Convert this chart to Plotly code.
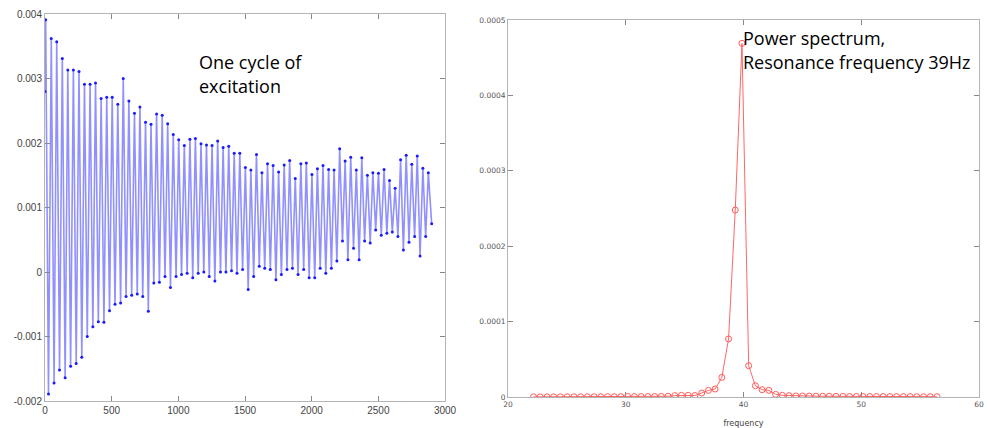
import plotly.graph_objects as go

# ---------------- Left panel: one cycle of excitation (read per oscillation cycle) ----------------
start_sample = 0
start_value = 0.0028
end_sample = 2900
end_value = 0.00075

peak_sample = [5, 47, 88, 130, 171, 213, 255, 296, 338, 379, 421, 463, 504, 546, 587, 629, 671, 712,
               754, 795, 837, 879, 920, 962, 1003, 1045, 1087, 1128, 1170, 1211, 1253, 1295, 1336,
               1378, 1419, 1461, 1503, 1544, 1586, 1627, 1669, 1711, 1752, 1794, 1835, 1877, 1919,
               1960, 2002, 2043, 2085, 2127, 2168, 2210, 2251, 2293, 2335, 2376, 2418, 2459, 2501,
               2543, 2584, 2626, 2667, 2709, 2751, 2792, 2834, 2875]
peak_value = [0.00391, 0.00362, 0.00357, 0.00331, 0.00313, 0.00313, 0.00311, 0.00291, 0.00291,
              0.00293, 0.00269, 0.00271, 0.00271, 0.00260, 0.00300, 0.00265, 0.00246, 0.00256,
              0.00232, 0.00229, 0.00245, 0.00243, 0.00230, 0.00213, 0.00205, 0.00196, 0.00206,
              0.00207, 0.00199, 0.00197, 0.00196, 0.00203, 0.00193, 0.00195, 0.00184, 0.00184,
              0.00162, 0.00158, 0.00182, 0.00154, 0.00168, 0.00165, 0.00155, 0.00166, 0.00173,
              0.00145, 0.00168, 0.00169, 0.00151, 0.00160, 0.00165, 0.00159, 0.00158, 0.00191,
              0.00172, 0.00178, 0.00158, 0.00177, 0.00150, 0.00154, 0.00153, 0.00159, 0.00142,
              0.00130, 0.00174, 0.00181, 0.00167, 0.00180, 0.00161, 0.00154]

trough_sample = [26, 68, 109, 151, 192, 234, 276, 317, 359, 400, 442, 484, 525, 567, 608, 650, 692,
                 733, 775, 816, 858, 900, 941, 983, 1024, 1066, 1108, 1149, 1191, 1232, 1274, 1316,
                 1357, 1399, 1440, 1482, 1524, 1565, 1607, 1648, 1690, 1732, 1773, 1815, 1856, 1898,
                 1940, 1981, 2023, 2064, 2106, 2148, 2189, 2231, 2272, 2314, 2356, 2397, 2439, 2480,
                 2522, 2564, 2605, 2647, 2688, 2730, 2772, 2813, 2855]
trough_value = [-0.00189, -0.00172, -0.00152, -0.00164, -0.00146, -0.00142, -0.00132, -0.00100,
                -0.00085, -0.00077, -0.00078, -0.00060, -0.00050, -0.00048, -0.00038, -0.00036,
                -0.00034, -0.00038, -0.00061, -0.00017, -0.00016, -0.00007, -0.00024, -0.00007,
                -0.00004, -0.00002, -0.00009, -0.00002, 0.00000, -0.00007, -0.00014, 0.00000,
                0.00000, 0.00002, -0.00002, 0.00004, -0.00027, -0.00007, 0.00009, 0.00006,
                0.00004, -0.00012, -0.00004, 0.00004, 0.00006, -0.00004, 0.00004, -0.00009,
                -0.00009, 0.00006, -0.00002, 0.00006, 0.00017, 0.00048, 0.00019, 0.00037,
                0.00019, 0.00048, 0.00045, 0.00065, 0.00057, 0.00060, 0.00062, 0.00055,
                0.00034, 0.00046, 0.00055, 0.00025, 0.00055]

left_xticks = [0, 500, 1000, 1500, 2000, 2500, 3000]
left_yticks = [-0.002, -0.001, 0, 0.001, 0.002, 0.003, 0.004]
left_yticklabels = ["-0.002", "-0.001", "0", "0.001", "0.002", "0.003", "0.004"]

# ---------------- Right panel: power spectrum ----------------
frequency = [22.17, 22.74, 23.31, 23.88, 24.45, 25.03, 25.60, 26.17, 26.74, 27.31, 27.88, 28.45,
             29.02, 29.59, 30.16, 30.74, 31.31, 31.88, 32.45, 33.02, 33.59, 34.16, 34.73, 35.30,
             35.87, 36.45, 37.02, 37.59, 38.16, 38.73, 39.30, 39.87, 40.44, 41.01, 41.58, 42.15,
             42.73, 43.30, 43.87, 44.44, 45.01, 45.58, 46.15, 46.72, 47.29, 47.86, 48.44, 49.01,
             49.58, 50.15, 50.72, 51.29, 51.86, 52.43, 53.00, 53.57, 54.15, 54.72, 55.29, 55.86,
             56.43]
power = [0.2e-6, 0.2e-6, 0.2e-6, 0.2e-6, 0.2e-6, 0.3e-6, 0.3e-6, 0.3e-6, 0.3e-6, 0.3e-6, 0.3e-6,
         0.4e-6, 0.4e-6, 0.4e-6, 0.7e-6, 0.6e-6, 0.6e-6, 0.6e-6, 0.7e-6, 0.9e-6, 1.0e-6, 1.8e-6,
         2.2e-6, 2.2e-6, 2.0e-6, 5.3e-6, 8.8e-6, 10.6e-6, 26e-6, 77e-6, 248e-6, 469e-6, 41.5e-6,
         15e-6, 9.7e-6, 8.8e-6, 3.5e-6, 2.2e-6, 1.8e-6, 1.4e-6, 1.3e-6, 1.2e-6, 1.1e-6, 1.0e-6,
         1.0e-6, 0.9e-6, 0.8e-6, 0.7e-6, 0.7e-6, 0.7e-6, 0.6e-6, 0.6e-6, 0.6e-6, 0.5e-6, 0.5e-6,
         0.5e-6, 0.5e-6, 0.4e-6, 0.4e-6, 0.4e-6, 0.4e-6]

right_xticks = [20, 30, 40, 50, 60]
right_yticks = [0, 0.0001, 0.0002, 0.0003, 0.0004, 0.0005]
right_yticklabels = ["0", "0.0001", "0.0002", "0.0003", "0.0004", "0.0005"]

# ---------------- Build left series (alternate peaks / troughs) ----------------
xs = [start_sample]
ys = [start_value]
for i in range(len(trough_sample)):
    xs += [peak_sample[i], trough_sample[i]]
    ys += [peak_value[i], trough_value[i]]
xs.append(peak_sample[-1]); ys.append(peak_value[-1])
xs.append(end_sample); ys.append(end_value)

W, H = 988, 428

fig = go.Figure()
fig.add_trace(go.Scatter(
    x=xs, y=ys, mode="lines+markers",
    line=dict(color="rgba(70,70,255,0.6)", width=1.6),
    marker=dict(color="#1a1aff", size=3),
    xaxis="x", yaxis="y", showlegend=False, hoverinfo="skip"))

fig.add_trace(go.Scatter(
    x=frequency, y=power, mode="lines+markers",
    line=dict(color="#ff6666", width=1),
    marker=dict(symbol="circle-open", color="#ff5a5a", size=6, line=dict(width=1)),
    xaxis="x2", yaxis="y2", showlegend=False, hoverinfo="skip"))

frame = "#b4b4b4"
common = dict(showline=True, linecolor=frame, linewidth=1, mirror="ticks", ticks="inside",
              ticklen=5, tickcolor="#888888", showgrid=False, zeroline=False, automargin=False)

fig.update_layout(
    width=W, height=H,
    margin=dict(l=0, r=0, t=0, b=0, autoexpand=False),
    paper_bgcolor="white", plot_bgcolor="white",
    xaxis=dict(domain=[45 / W, 445 / W], range=[0, 3000], tickvals=left_xticks,
               tickfont=dict(family="Liberation Sans", size=10, color="#444444"),
               anchor="y", **common),
    yaxis=dict(domain=[1 - 401 / H, 1 - 14 / H], range=[-0.002, 0.004], tickvals=left_yticks,
               ticktext=left_yticklabels,
               tickfont=dict(family="Liberation Sans", size=10, color="#444444"),
               anchor="x", **common),
    xaxis2=dict(domain=[508 / W, 979 / W], range=[20, 60], tickvals=right_xticks,
                tickfont=dict(family="DejaVu Sans", size=7.5, color="#555555"),
                title=dict(text="frequency", font=dict(family="DejaVu Sans", size=8, color="#444444"),
                           standoff=13),
                anchor="y2", **common),
    yaxis2=dict(domain=[1 - 397 / H, 1 - 20 / H], range=[0, 0.0005], tickvals=right_yticks,
                ticktext=right_yticklabels,
                tickfont=dict(family="DejaVu Sans", size=7.5, color="#555555"),
                anchor="x2", **common),
)

afont = dict(family="Open Sans", size=18, color="black")
fig.add_annotation(x=197 / W, y=1 - 62 / H, xref="paper", yref="paper", text="One cycle of",
                   showarrow=False, xanchor="left", yanchor="middle", font=afont)
fig.add_annotation(x=197 / W, y=1 - 86 / H, xref="paper", yref="paper", text="excitation",
                   showarrow=False, xanchor="left", yanchor="middle", font=afont)
fig.add_annotation(x=741 / W, y=1 - 38 / H, xref="paper", yref="paper", text="Power spectrum,",
                   showarrow=False, xanchor="left", yanchor="middle", font=afont)
fig.add_annotation(x=741 / W, y=1 - 62 / H, xref="paper", yref="paper",
                   text="Resonance frequency 39Hz",
                   showarrow=False, xanchor="left", yanchor="middle", font=afont)

fig.write_html("out.html")
